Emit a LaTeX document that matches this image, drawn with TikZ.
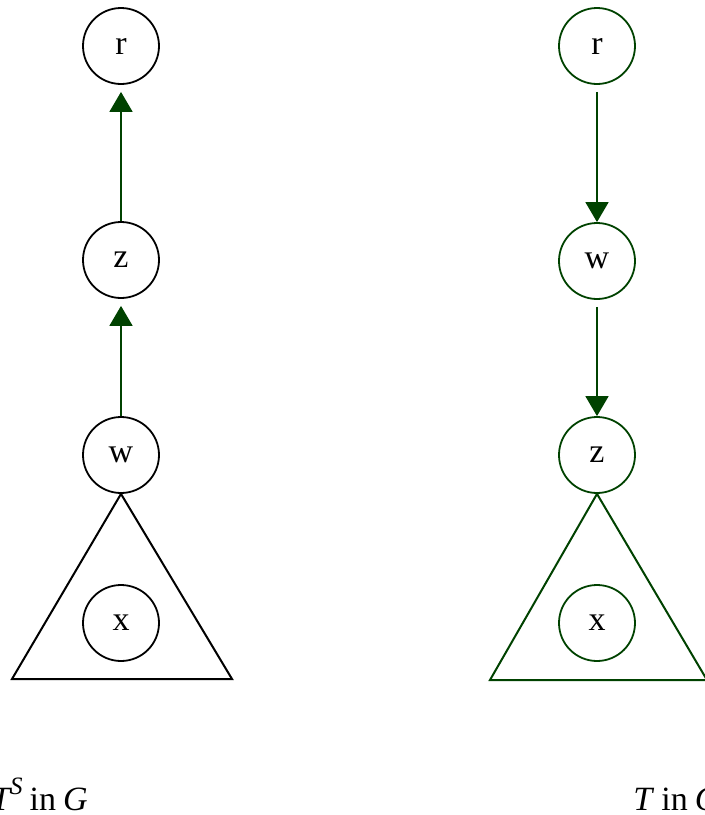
\documentclass[tikz,border=0pt]{standalone}
\usepackage{fontspec}
\setmainfont{Liberation Serif}
\usepackage{tikz}
\usetikzlibrary{arrows.meta}
\definecolor{dkgreen}{RGB}{0,66,0}
\newcommand{\supS}{\raisebox{0.45em}{\fontsize{12.5}{15}\selectfont\textit{S}}}

\begin{document}
\begin{tikzpicture}[x=0.5pt, y=-0.5pt,
  font=\fontsize{17}{20}\selectfont,
  vtx/.style={circle, draw, line width=0.9pt, minimum size=38pt, inner sep=0pt},
  subtree/.style={draw, line width=1pt, line join=miter},
  arr/.style={draw=dkgreen, line width=0.9pt, -{Triangle[width=11.5pt,length=10pt]}, dkgreen}]
\useasboundingbox (0,0) rectangle (705,815);
% T^S in G
\node[vtx] (rL) at (121,46) {r};
\node[vtx] (zL) at (121,260) {z};
\node[vtx] (wL) at (121,455) {w};
\node[vtx] (xL) at (121,623) {x};
\coordinate (blL) at (12,679);
\coordinate (brL) at (232,679);
\draw[subtree] (wL.south) -- (blL) -- (brL) -- cycle;
\draw[arr, shorten >=3.5pt] (wL) -- (zL);
\draw[arr, shorten >=3.5pt] (zL) -- (rL);
\node[anchor=base east, inner sep=0pt] (labL) at (88,810)
  {\textit{T}\kern-1pt\supS\hspace{3.5pt}in\hspace{3.5pt}\textit{G}};
% T in G
\begin{scope}[xshift=238pt, every node/.append style={draw=dkgreen}]
\node[vtx] (rR) at (121,46) {r};
\node[vtx] (wR) at (121,261) {w};
\node[vtx] (zR) at (121,455) {z};
\node[vtx] (xR) at (121,623) {x};
\coordinate (blR) at (14,680);
\coordinate (brR) at (231,680);
\draw[subtree, dkgreen] (zR.south) -- (blR) -- (brR) -- cycle;
\draw[arr, shorten <=3.5pt] (rR) -- (wR);
\draw[arr, shorten <=3.5pt] (wR) -- (zR);
\end{scope}
\node[anchor=base west, inner sep=0pt] (labR) at (633,810)
  {\textit{T}\hspace{3.5pt}in\hspace{3.5pt}\textit{G}};
\end{tikzpicture}
\end{document}
